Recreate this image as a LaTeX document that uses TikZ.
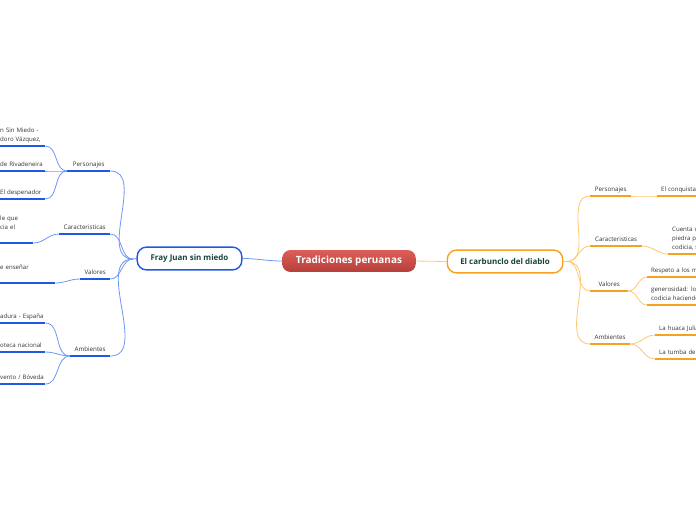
\documentclass[tikz,border=0pt]{standalone}
\usepackage{fontspec}
\setmainfont{Open Sans}
\usetikzlibrary{positioning}
\definecolor{rootup}{HTML}{DE5E58}
\definecolor{rootdown}{HTML}{B63F3A}
\definecolor{blueul}{HTML}{2157E6}
\definecolor{blueline}{HTML}{6F98F4}
\definecolor{orangeul}{HTML}{F6A21E}
\definecolor{orangeline}{HTML}{FFC873}
\definecolor{deepgreen}{HTML}{17443A}
\definecolor{ink}{HTML}{333333}

\begin{document}
\begin{tikzpicture}[x=0.03cm,y=-0.03cm,
  leaf/.style={font=\fontsize{5.2}{7.7}\selectfont,text=ink,inner xsep=0pt,inner ysep=2.6pt,execute at end node={\vphantom{g}},align=left,anchor=south west},
  rleaf/.style={leaf,inner xsep=3.4pt,text width=90pt},
  topic/.style={font=\fontsize{5.3}{7}\selectfont,text=ink,inner sep=0pt,inner ysep=2.6pt,text depth=1.3pt,anchor=south west},
  mainbox/.style={fill=white,line width=1.2pt,rounded corners=8pt,minimum height=19.5pt,font=\fontsize{6.8}{8}\selectfont\bfseries,text=deepgreen},
  bthin/.style={draw=blueline,line width=.7pt},
  bul/.style={draw=blueul,line width=1.6pt},
  othin/.style={draw=orangeline,line width=.7pt},
  oul/.style={draw=orangeul,line width=1.6pt}]
\clip (0,0) rectangle (696,520);

\node[rounded corners=7pt,top color=rootup,bottom color=rootdown,minimum width=114pt,minimum height=18.7pt,text=white,font=\fontsize{8.5}{10}\selectfont\bfseries] (root) at (349,261) {Tradiciones peruanas};
\node[mainbox,draw=blueul,minimum width=89.3pt] (fray) at (189.5,258.5) {Fray Juan sin miedo};
\node[mainbox,draw=orangeul,minimum width=98.6pt] (carb) at (505,261.5) {El carbunclo del diablo};
\draw[bthin] (fray.east) to[out=0,in=180] (root.west);
\draw[othin] (root.east) -- (carb.west);

\coordinate (lhub) at (133,259);
\coordinate (rhub) at (567,261.5);
\draw[bthin] (fray.west) -- (lhub);
\draw[othin] (carb.east) -- (rhub);

\foreach \n/\xl/\w/\y/\txt in {lpers/67/36.6/171/Personajes,lcar/59/43.4/234/Caracteristicas,lval/80/25.5/279/Valores,lamb/70/34/356/Ambientes}{
  \node[topic,minimum width=\w pt] (\n) at (\xl,\y) {\txt};
  \draw[bul] (\n.south west) -- (\n.south east);
  \draw[bthin] (lhub) to[out=180,in=0] (\n.south east);
}
\foreach \n/\p/\w/\y/\txt in {la/lpers/38.3/146/{n Sin Miedo -\\doro Vázquez,},lb/lpers/38.3/171/{de Rivadeneira},lc/lpers/38.3/199/{El despenador},ld/lcar/28.1/243/{le que\\cia el\\\mbox{}},le/lval/46.8/283/{e enseñar\\\mbox{}},lf/lamb/38.3/323/{adura - España},lg/lamb/38.3/352/{oteca nacional},lh/lamb/38.3/384/{vento / Bóveda}}{
  \node[leaf,text width=\w pt] (\n) at (0,\y) {\txt};
  \draw[bul] (\n.south west) -- (\n.south east);
  \draw[bthin] (\p.south west) to[out=180,in=0] (\n.south east);
}

\foreach \n/\w/\y/\txt in {rpers/34.9/196/Personajes,rcar/44.2/246/Caracteristicas,rval/32.3/291/Valores,ramb/34/344/Ambientes}{
  \node[topic,minimum width=\w pt] (\n) at (590,\y) {\txt};
  \draw[oul] (\n.south west) -- (\n.south east);
  \draw[othin] (rhub) to[out=0,in=180] (\n.south west);
}
\foreach \n/\p/\xl/\y/\txt in {ra/rpers/657/196/{El conquistad},rb/rcar/668/254/{Cuenta c\\piedra po\\codicia, s},rc/rval/647/277/{Respeto a los m},rd/rval/647/305/{generosidad: los\\codicia haciendo},re/ramb/655/335/{La huaca Julia},rf/ramb/655/359/{La tumba de}}{
  \node[rleaf] (\n) at (\xl,\y) {\txt};
  \draw[oul] (\n.south west) -- (\n.south east);
  \draw[othin] (\p.south east) to[out=0,in=180] (\n.south west);
}
\end{tikzpicture}
\end{document}
